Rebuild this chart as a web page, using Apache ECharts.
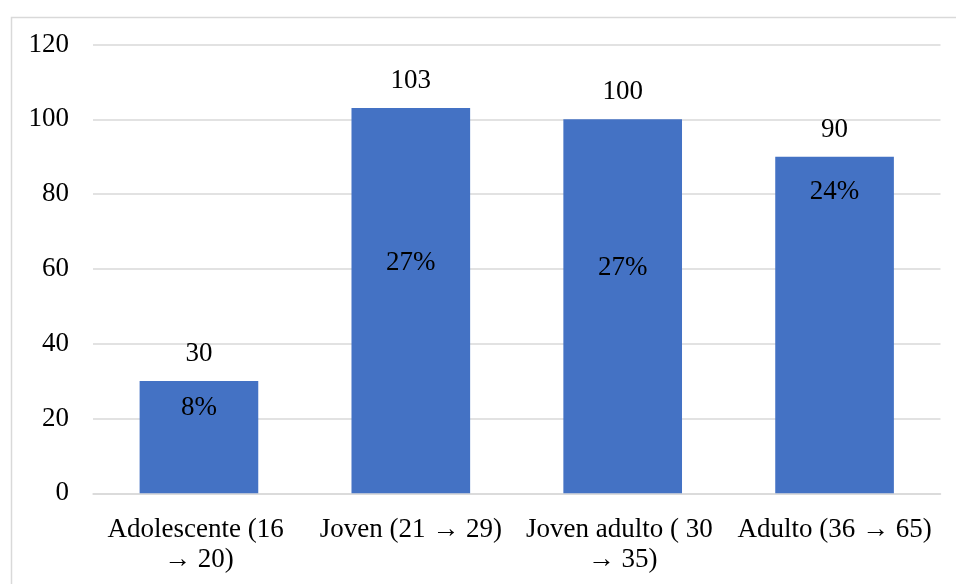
<!DOCTYPE html>
<html>
<head>
<meta charset="utf-8">
<script src="https://cdn.jsdelivr.net/npm/echarts@6/dist/echarts.min.js"></script>
<style>html,body{margin:0;padding:0;background:#fff}#c{width:956px;height:584px}</style>
</head>
<body>
<div id="c"></div>
<script>
const categories = ['Adolescente (16 → 20)', 'Joven (21 → 29)', 'Joven adulto ( 30 → 35)', 'Adulto (36 → 65)'];
const counts = [30, 103, 100, 90];
const percents = ['8%', '27%', '27%', '24%'];
const yTicks = { min: 0, max: 120, interval: 20 };
// layout: pixel offset of each percentage label centre below its bar top
const pctLabelOffset = [27, 155, 149, 35];

const FONT = '"Liberation Serif", "Times New Roman", serif';
const chart = echarts.init(document.getElementById('c'), null, { renderer: 'canvas' });
chart.setOption({
  animation: false,
  graphic: [{
    type: 'rect', left: 9, top: 15, silent: true,
    shape: { width: 1000, height: 700 },
    style: { fill: 'none', stroke: '#d9d9d9', lineWidth: 1.5 }
  }],
  grid: { left: 93, right: 15.5, top: 44.5, bottom: 90.7 },
  xAxis: {
    type: 'category', data: categories,
    axisLine: { show: true, lineStyle: { color: '#d9d9d9', width: 1.5 } },
    axisTick: { show: false },
    axisLabel: {
      interval: 0, color: '#000', fontFamily: FONT, fontSize: 27, lineHeight: 30,
      margin: 22, width: 205, overflow: 'break'
    }
  },
  yAxis: {
    type: 'value', min: yTicks.min, max: yTicks.max, interval: yTicks.interval,
    axisLine: { show: false }, axisTick: { show: false },
    splitLine: { lineStyle: { color: '#d9d9d9', width: 1.5 } },
    axisLabel: { color: '#000', fontFamily: FONT, fontSize: 27, margin: 24 }
  },
  series: [{
    type: 'bar', data: counts, barWidth: '56%',
    itemStyle: { color: '#4472C4' },
    label: {
      show: true, position: ['50%', -27], align: 'center', verticalAlign: 'middle',
      color: '#000', fontFamily: FONT, fontSize: 27
    }
  }, {
    type: 'bar', barGap: '-100%', barWidth: '56%', silent: true,
    data: counts.map((v, i) => ({
      value: v,
      label: { position: ['50%', pctLabelOffset[i]], formatter: percents[i] }
    })),
    itemStyle: { color: 'rgba(0,0,0,0)' },
    label: {
      show: true, align: 'center', verticalAlign: 'middle',
      color: '#000', fontFamily: FONT, fontSize: 27
    }
  }]
});
</script>
</body>
</html>
